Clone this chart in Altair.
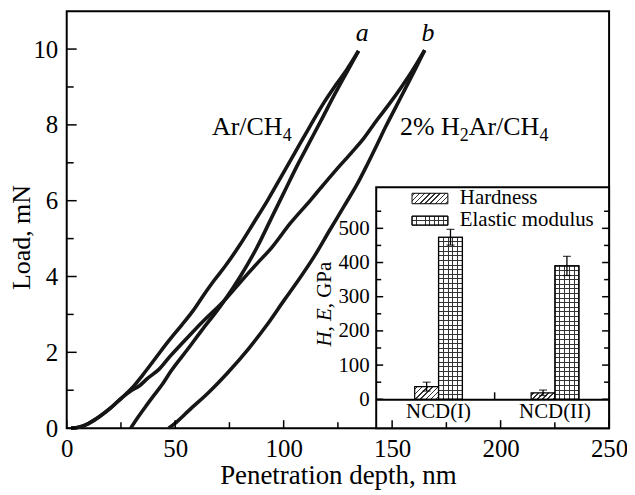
import math
import altair as alt
import pandas as pd

# ---------------- data ----------------
a_load_depth = [2, 6, 10, 15, 20, 25, 30, 35, 41, 47, 53, 58, 63, 68, 73, 80, 86, 92.8, 99, 105, 112, 118.7, 124, 129, 134.5]
a_load_force = [0, 0.03, 0.12, 0.3, 0.52, 0.78, 1.05, 1.4, 1.85, 2.3, 2.72, 3.08, 3.5, 3.9, 4.27, 4.85, 5.4, 6.03, 6.65, 7.25, 7.95, 8.6, 9.05, 9.45, 9.95]

a_unload_depth = [134.5, 129, 123, 118, 112, 106, 100, 94, 88, 80, 73, 68, 62.5, 56, 48, 44, 40, 36.5, 33, 29.5]
a_unload_force = [9.95, 9.38, 8.75, 8.2, 7.55, 6.9, 6.2, 5.5, 4.8, 4.0, 3.39, 3.0, 2.6, 2.1, 1.5, 1.15, 0.85, 0.58, 0.3, 0]

b_load_depth = [2, 6, 10, 15, 20, 25, 30, 33.4, 37, 42.5, 48, 53.2, 58, 63.8, 68, 73, 80, 88, 94.3, 103, 112.6, 117, 124, 131, 137, 143, 148, 154.3, 159, 165]
b_load_force = [0, 0.03, 0.12, 0.3, 0.52, 0.78, 1.0, 1.11, 1.3, 1.55, 1.92, 2.24, 2.53, 2.87, 3.1, 3.39, 3.85, 4.36, 4.75, 5.4, 6.03, 6.33, 6.8, 7.25, 7.65, 8.13, 8.5, 9.0, 9.4, 9.97]

b_unload_depth = [165, 160.5, 156, 151.5, 147, 142.8, 138.5, 134, 127.8, 121, 114.1, 107, 100.4, 92, 83.6, 74, 65.4, 56, 51, 47]
b_unload_force = [9.97, 9.45, 8.95, 8.45, 7.95, 7.45, 6.95, 6.45, 5.85, 5.2, 4.53, 3.92, 3.39, 2.7, 2.08, 1.45, 0.94, 0.45, 0.18, 0]

samples = ["NCD(I)", "NCD(II)"]
props = ["Hardness", "Elastic modulus"]
hardness = [37, 19]
hardness_err = [13, 8]
modulus = [474, 390]
modulus_err = [23, 28]

x_major = [0, 50, 100, 150, 200, 250]
x_minor = [25, 75, 125, 175, 225]
y_major = [0, 2, 4, 6, 8, 10]
y_minor = [1, 3, 5, 7, 9]
inset_major = [0, 100, 200, 300, 400, 500]
inset_minor = [50, 150, 250, 350, 450, 550]

# ---------------- layout / style ----------------
FONT = "Liberation Serif"
W, H = 545, 419
IX0, IX1 = 311, 545          # inset frame (pixels in plot area)
IY0, IYT = 390, 177          # inset y-range (0 at IY0, top at IYT)
ITOP = 620
INK = "#161616"

parts = []
for name, xs_, ys_ in [("a_load", a_load_depth, a_load_force),
                       ("a_unload", a_unload_depth, a_unload_force),
                       ("b_load", b_load_depth, b_load_force),
                       ("b_unload", b_unload_depth, b_unload_force)]:
    parts.append(pd.DataFrame({"depth": xs_, "load": ys_, "curve": name}))
curves_df = pd.concat(parts, ignore_index=True)
one = pd.DataFrame({"k": [0]})

xs = alt.Scale(domain=[0, 250], nice=False, zero=False)
ys = alt.Scale(domain=[0, 11], nice=False, zero=False)

curves = alt.Chart(curves_df).mark_line(color=INK, strokeWidth=3.6, strokeJoin="round",
                                        interpolate="monotone").encode(
    x=alt.X("depth:Q", scale=xs, axis=alt.Axis(
        values=x_major, ticks=False, tickSize=0, domain=False, grid=False,
        labelFont=FONT, labelFontSize=25, labelColor="black", labelBaseline="alphabetic",
        labelPadding=29, labelFlush=False, labelOverlap=False, labelBound=False,
        title="Penetration depth, nm", titleFont=FONT, titleFontSize=27,
        titleFontWeight="normal", titleColor="black", titleBaseline="alphabetic", titleY=56)),
    y=alt.Y("load:Q", scale=ys, axis=alt.Axis(
        values=y_major, ticks=False, tickSize=0, domain=False, grid=False,
        labelFont=FONT, labelFontSize=25, labelColor="black", labelPadding=9,
        labelFlush=False, labelOverlap=False, labelBound=False,
        title="Load, mN", titleFont=FONT, titleFontSize=26, titleFontWeight="normal",
        titleColor="black", titleAngle=270, titleBaseline="alphabetic", titleX=-37, titleY=227)),
    detail="curve:N",
    order="depth:Q",
)

frame = alt.Chart(one).mark_rect(fill="white", stroke="black", strokeWidth=2).encode(
    x=alt.value(IX0), x2=alt.value(IX1), y=alt.value(IYT), y2=alt.value(H))

def vrules(vals, length):
    return alt.Chart(pd.DataFrame({"v": vals})).mark_rule(color="black", strokeWidth=1.5).encode(
        x=alt.X("v:Q", scale=xs), y=alt.value(H), y2=alt.value(H - length))

def hrules(vals, length):
    return alt.Chart(pd.DataFrame({"v": vals})).mark_rule(color="black", strokeWidth=1.5).encode(
        y=alt.Y("v:Q", scale=ys), x=alt.value(0), x2=alt.value(length))

def label(text, x, y, size=26, style="normal", align="left"):
    return alt.Chart(one).mark_text(font=FONT, fontSize=size, fontStyle=style, align=align,
                                    baseline="alphabetic", color="black").encode(
        x=alt.value(x), y=alt.value(y), text=alt.value(text))

annots = [
    label("Ar/CH", 146, 124), label("4", 217, 130, size=18),
    label("2% H", 335, 124), label("2", 395, 130, size=18),
    label("Ar/CH", 404, 124), label("4", 475, 130, size=18),
    label("a", 297, 30, style="italic", align="center"),
    label("b", 363, 30, style="italic", align="center"),
]

main = alt.layer(curves, frame, vrules(x_major, 8), vrules(x_minor, 6),
                 hrules(y_major, 10), hrules(y_minor, 7), *annots)

# ---------------- inset ----------------
inset_df = pd.DataFrame({
    "sample": samples + samples,
    "prop": [props[0]] * 2 + [props[1]] * 2,
    "value": hardness + modulus,
    "err": hardness_err + modulus_err,
})
inset_df["lo"] = inset_df["value"] - inset_df["err"]
inset_df["hi"] = inset_df["value"] + inset_df["err"]

ix = alt.Scale(domain=samples, range=[IX0, IX1], paddingInner=0.59, paddingOuter=0.295, align=0.56)
ixo = alt.Scale(domain=props, paddingInner=0, paddingOuter=0)
iy = alt.Scale(domain=[0, ITOP], range=[IY0, IYT], nice=False, zero=False)
PXU = (IY0 - IYT) / ITOP

def stops_from(centers, hw, line, bg):
    st = [(0.0, bg)]
    for c in centers:
        a, b = max(0.0, c - hw), min(1.0, c + hw)
        st += [(a, bg), (a, line), (b, line), (b, bg)]
    st.append((1.0, bg))
    return [alt.GradientStop(offset=round(o, 5), color=col) for o, col in st]

def vstripes(w, n):
    return alt.Gradient(gradient="linear", x1=0, y1=0, x2=1, y2=0,
                        stops=stops_from([k / n for k in range(1, n)], 0.5 / w, "#333333", "white"))

def hstripes(h, n):
    return alt.Gradient(gradient="linear", x1=0, y1=0, x2=0, y2=1,
                        stops=stops_from([k / n for k in range(1, n)], 0.5 / h, "#333333", "transparent"))

def diag(w, h, spacing=3.6):
    r = w / h
    q = (r + 1) / (r * r + 1)
    p = r * q
    d = (w + h) / math.sqrt(2)
    n = max(2, int(round(d / spacing)))
    return alt.Gradient(gradient="linear", x1=0, y1=0, x2=round(p, 4), y2=round(q, 4),
                        stops=stops_from([(k - 0.5) / n for k in range(1, n + 1)], 0.5 / d, "#333333", "white"))

BW = 24.0
base = alt.Chart(inset_df)
xenc = alt.X("sample:N", scale=ix, axis=alt.Axis(
    orient="bottom", title=None, labelAngle=0, ticks=False, tickSize=0, domain=True,
    domainColor="black", domainWidth=2, grid=False, labelFont=FONT, labelFontSize=21,
    labelColor="black", labelBaseline="alphabetic", labelPadding=18, offset=-(H - IY0), zindex=1))
xonly = alt.X("sample:N", scale=ix)
xoff = alt.XOffset("prop:N", scale=ixo)
yenc = alt.Y("value:Q", scale=iy, axis=alt.Axis(
    orient="left", values=inset_major, ticks=False, tickSize=0, domain=False, grid=False, title=None,
    labelFont=FONT, labelFontSize=21, labelColor="black", labelPadding=7,
    labelFlush=False, labelOverlap=False, labelBound=False, offset=-IX0, zindex=1))
yonly = alt.Y("value:Q", scale=iy)

bar_layers = []
for i, s in enumerate(samples):
    hh = hardness[i] * PXU
    bar_layers.append(base.transform_filter((alt.datum.prop == props[0]) & (alt.datum.sample == s))
                      .mark_bar(fill=diag(BW, hh), stroke="black", strokeWidth=1.2)
                      .encode(x=xenc if i == 0 else xonly, xOffset=xoff,
                              y=yenc if i == 0 else yonly))
bar_layers.append(base.transform_filter(alt.datum.prop == props[1])
                  .mark_bar(fill=vstripes(BW, 5), stroke="black", strokeWidth=1.2)
                  .encode(x=xonly, xOffset=xoff, y=yonly))
for i, s in enumerate(samples):
    hh = modulus[i] * PXU
    bar_layers.append(base.transform_filter((alt.datum.prop == props[1]) & (alt.datum.sample == s))
                      .mark_bar(fill=hstripes(hh, int(round(hh / 4.7))), stroke="black", strokeWidth=1.2)
                      .encode(x=xonly, xOffset=xoff, y=yonly))

err_rule = base.mark_rule(color="black", strokeWidth=1.3).encode(
    x=xonly, xOffset=xoff, y=alt.Y("lo:Q", scale=iy), y2="hi:Q")
cap_hi = base.mark_tick(orient="horizontal", size=8, thickness=1.3, color="black").encode(
    x=xonly, xOffset=xoff, y=alt.Y("hi:Q", scale=iy))
cap_lo = base.mark_tick(orient="horizontal", size=8, thickness=1.3, color="black").encode(
    x=xonly, xOffset=xoff, y=alt.Y("lo:Q", scale=iy))

def iticks(vals, x0, x1):
    return alt.Chart(pd.DataFrame({"v": vals})).mark_rule(color="black", strokeWidth=1.5).encode(
        y=alt.Y("v:Q", scale=iy), x=alt.value(x0), x2=alt.value(x1))

mid_tick = alt.Chart(one).mark_rule(color="black", strokeWidth=1.5).encode(
    x=alt.value(430), y=alt.value(IY0), y2=alt.value(IY0 - 7))

sw = []
sw.append(alt.Chart(one).mark_rect(fill=diag(36, 10.5), stroke="black", strokeWidth=1).encode(
    x=alt.value(347), x2=alt.value(383), y=alt.value(183), y2=alt.value(193.5)))
sw.append(alt.Chart(one).mark_rect(fill=vstripes(36, 8), stroke="black", strokeWidth=1).encode(
    x=alt.value(347), x2=alt.value(383), y=alt.value(206), y2=alt.value(215)))
sw.append(alt.Chart(one).mark_rect(fill=hstripes(9, 2), stroke="black", strokeWidth=1).encode(
    x=alt.value(347), x2=alt.value(383), y=alt.value(206), y2=alt.value(215)))
leg_text = [label(props[0], 395, 194, size=21), label(props[1], 395, 216, size=21)]

def rot(text, y, style="normal"):
    return alt.Chart(one).mark_text(font=FONT, fontSize=21, fontStyle=style, align="left",
                                    baseline="alphabetic", angle=270, color="black").encode(
        x=alt.value(266), y=alt.value(y), text=alt.value(text))

ytitle = [rot("H", 337, "italic"), rot(",", 321.8), rot("E", 311.3, "italic"), rot(", GPa", 298.5)]

inset = alt.layer(*bar_layers, err_rule, cap_hi, cap_lo,
                  iticks(inset_major, IX0, IX0 + 7), iticks(inset_minor, IX0, IX0 + 5),
                  iticks(inset_major, IX1 - 7, IX1), iticks(inset_minor, IX1 - 5, IX1),
                  mid_tick, *sw, *leg_text, *ytitle)

chart = alt.layer(main, inset).resolve_scale(x="independent", y="independent").properties(
    width=W, height=H,
    padding={"left": 59, "top": 2, "right": 18, "bottom": 64},
    autosize=alt.AutoSizeParams(type="none"),
    background="white",
).configure_view(stroke="black", strokeWidth=2)

chart.save("out.html", embed_options={"renderer": "svg", "actions": False})
